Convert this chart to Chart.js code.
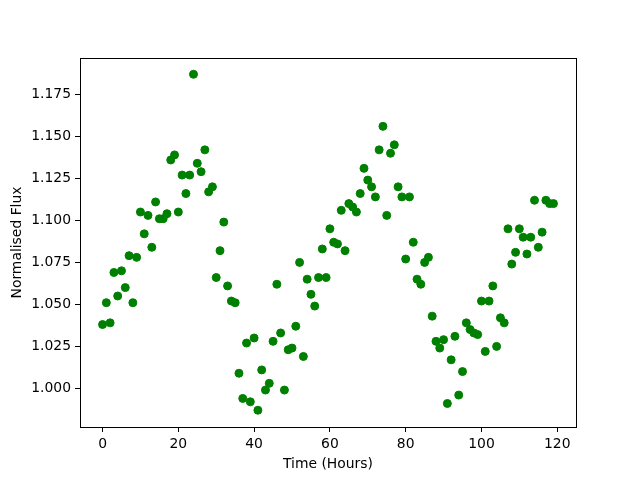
<!DOCTYPE html>
<html>
<head>
<meta charset="utf-8">
<script src="https://cdn.jsdelivr.net/npm/chart.js@4/dist/chart.umd.min.js"></script>
<style>
html,body{margin:0;padding:0;background:#fff;}
#wrap{width:640px;height:480px;position:relative;}
</style>
</head>
<body>
<div id="wrap"><canvas id="c" width="640" height="480"></canvas></div>
<script>
const times = [0,1,2,3,4,5,6,7,8,9,10,11,12,13,14,15,16,17,18,19,20,21,22,23,24,25,26,27,28,29,
30,31,32,33,34,35,36,37,38,39,40,41,42,43,44,45,46,47,48,49,50,51,52,53,54,55,56,57,58,59,
60,61,62,63,64,65,66,67,68,69,70,71,72,73,74,75,76,77,78,79,80,81,82,83,84,85,86,87,88,89,
90,91,92,93,94,95,96,97,98,99,100,101,102,103,104,105,106,107,108,109,110,111,112,113,114,115,116,117,118,119];
const flux = [1.038,1.051,1.039,1.069,1.055,1.070,1.060,1.079,1.051,1.078,
1.105,1.092,1.103,1.084,1.111,1.101,1.101,1.104,1.136,1.139,
1.105,1.127,1.116,1.127,1.187,1.134,1.129,1.142,1.117,1.120,
1.066,1.082,1.099,1.061,1.052,1.051,1.009,0.994,1.027,0.992,
1.030,0.987,1.011,0.999,1.003,1.028,1.062,1.033,0.999,1.023,
1.024,1.037,1.075,1.019,1.065,1.056,1.049,1.066,1.083,1.066,
1.095,1.087,1.086,1.106,1.082,1.110,1.108,1.105,1.116,1.131,
1.124,1.120,1.114,1.142,1.156,1.103,1.140,1.145,1.120,1.114,
1.077,1.114,1.087,1.065,1.062,1.075,1.078,1.043,1.028,1.024,
1.029,0.991,1.017,1.031,0.996,1.010,1.039,1.035,1.033,1.032,
1.052,1.022,1.052,1.061,1.025,1.042,1.039,1.095,1.074,1.081,
1.095,1.090,1.080,1.090,1.112,1.084,1.093,1.112,1.110,1.110];
const xTicks = [0,20,40,60,80,100,120];
const yTicks = [1.000,1.025,1.050,1.075,1.100,1.125,1.150,1.175];
const xTitle = 'Time (Hours)';
const yTitle = 'Normalised Flux';

Chart.defaults.color = '#000';
Chart.defaults.font.family = 'DejaVu Sans';
Chart.defaults.font.size = 13.9;

const frame = {
  id: 'frame',
  afterDraw(chart) {
    const {ctx, chartArea: a} = chart;
    ctx.save();
    ctx.strokeStyle = '#000';
    ctx.lineWidth = 1;
    const l = Math.round(a.left) + 0.5, t = Math.round(a.top) + 0.5;
    const r = Math.round(a.right) + 0.5, b = Math.round(a.bottom) + 0.5;
    ctx.strokeRect(l, t, r - l, b - t);
    ctx.restore();
  }
};

new Chart(document.getElementById('c'), {
  type: 'scatter',
  data: {
    datasets: [{
      data: times.map((t, i) => ({x: t, y: flux[i]})),
      backgroundColor: '#008000',
      borderColor: '#008000',
      borderWidth: 1,
      pointRadius: 4,
      pointHoverRadius: 4
    }]
  },
  options: {
    responsive: false,
    animation: false,
    events: [],
    layout: {padding: {left: 0, right: 64, top: 58, bottom: 0}},
    plugins: {legend: {display: false}, tooltip: {enabled: false}},
    scales: {
      x: {
        type: 'linear',
        min: -5.95, max: 124.95,
        afterBuildTicks(s) { s.ticks = xTicks.map(v => ({value: v})); },
        afterFit(s) { s.height = 53; },
        grid: {drawOnChartArea: false, drawTicks: true, tickLength: 5, color: '#000'},
        border: {display: false},
        ticks: {padding: 4, maxRotation: 0, callback: v => String(v)},
        title: {display: true, text: xTitle, padding: {top: 0, bottom: 7}}
      },
      y: {
        type: 'linear',
        min: 0.977, max: 1.1967,
        afterBuildTicks(s) { s.ticks = yTicks.map(v => ({value: v})); },
        afterFit(s) { s.width = 80; },
        grid: {drawOnChartArea: false, drawTicks: true, tickLength: 5, color: '#000'},
        border: {display: false},
        ticks: {padding: 4, callback: v => Number(v).toFixed(3)},
        title: {display: true, text: yTitle, padding: {top: 9, bottom: 0}}
      }
    }
  },
  plugins: [frame]
});
</script>
</body>
</html>
